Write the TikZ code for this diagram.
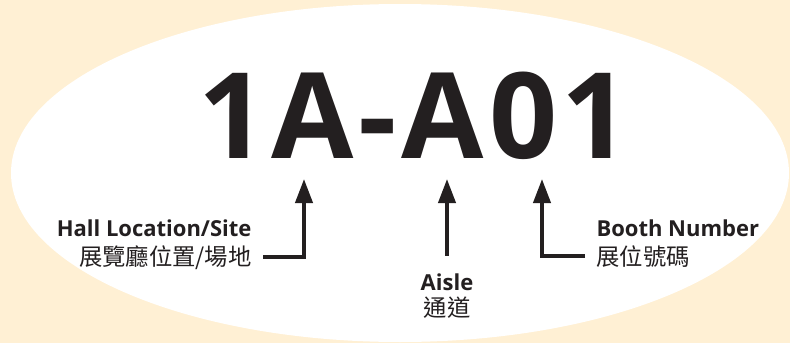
\documentclass[tikz,border=0pt]{standalone}
\usepackage{fontspec}
\usetikzlibrary{arrows.meta}
\setmainfont{Open Sans}
\newfontfamily\cjkfont{Noto Sans CJK TC}
\newfontfamily\codefont{Open Sans}[LetterSpace=4]
\definecolor{cream}{RGB}{255,240,212}
\definecolor{ink}{RGB}{35,31,32}
\tikzset{every picture/.style={line width=0.75pt}}
\tikzset{pointer/.style={draw=ink, line width=3pt, -{Triangle[width=12.75pt,length=18pt]}}}

\begin{document}
\begin{tikzpicture}[x=0.75pt,y=0.75pt,yscale=-1,xscale=1]
\useasboundingbox (0,0) rectangle (790,343);
%Shape: Rectangle [id:background]
\fill [cream] (0,0) rectangle (790,343) ;
%Shape: Ellipse [id:badge]
\fill [white] (400,173) ellipse [x radius=389, y radius=169] ;

% Text Node
\draw (414.5,158) node [anchor=base][inner sep=0.75pt] [font=\fontsize{89.5pt}{96pt}\codefont\bfseries, color=ink] (code) {1A-A01};
% Text Node
\draw (253,236) node [anchor=base east][inner sep=0.75pt] [font=\fontsize{16.5pt}{18pt}\selectfont\bfseries, color=ink] (hallEn) {Hall Location/Site};
% Text Node
\draw (253,265) node [anchor=base east][inner sep=0.75pt] [font=\fontsize{17.5pt}{20pt}\cjkfont, color=ink] (hallZh) {展覽廳位置/場地};
% Text Node
\draw (447,290) node [anchor=base][inner sep=0.75pt] [font=\fontsize{16.5pt}{18pt}\selectfont\bfseries, color=ink] (aisleEn) {Aisle};
% Text Node
\draw (447,316) node [anchor=base][inner sep=0.75pt] [font=\fontsize{17.5pt}{20pt}\cjkfont, color=ink] (aisleZh) {通道};
% Text Node
\draw (595,236) node [anchor=base west][inner sep=0.75pt] [font=\fontsize{16.5pt}{18pt}\selectfont\bfseries, color=ink] (boothEn) {Booth Number};
% Text Node
\draw (595,265) node [anchor=base west][inner sep=0.75pt] [font=\fontsize{17.5pt}{20pt}\cjkfont, color=ink] (boothZh) {展位號碼};

\coordinate (hallTip) at (304,179) ;
\coordinate (aisleTip) at (447,179) ;
\coordinate (boothTip) at (542,179) ;

%Straight Lines [id:hall]
\draw [pointer, shorten <=7.5pt] (hallZh.east) -| (hallTip) ;
%Straight Lines [id:aisle]
\draw [pointer, shorten <=12pt] (aisleEn.north) -- (aisleTip) ;
%Straight Lines [id:booth]
\draw [pointer, shorten <=7.5pt] (boothZh.west) -| (boothTip) ;

\end{tikzpicture}
\end{document}
